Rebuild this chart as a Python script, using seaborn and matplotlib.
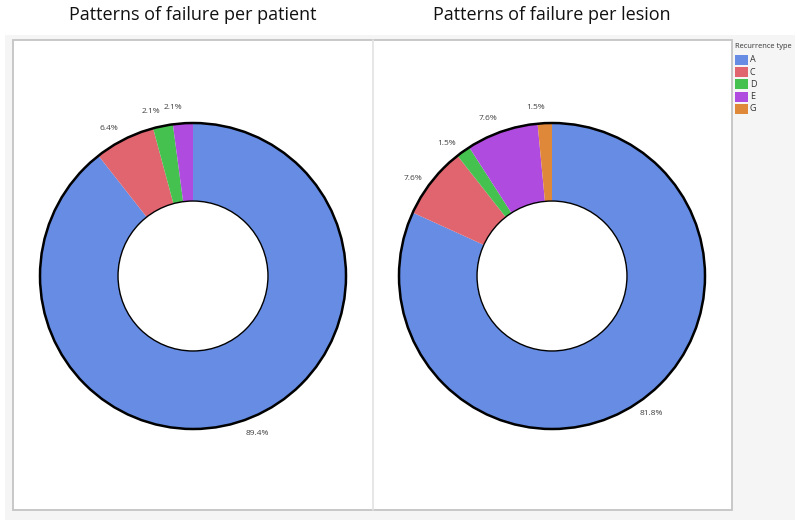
import matplotlib
matplotlib.use("Agg")
import numpy as np
import matplotlib.pyplot as plt
import seaborn as sns
from matplotlib.patches import Rectangle, Circle

# data
types = ["A", "C", "D", "E", "G"]
colors = ["#668ce4", "#e0656f", "#45c14f", "#b04be0", "#e0883a"]
patient_types = ["A", "C", "D", "E"]
patient_pct = [89.4, 6.4, 2.1, 2.1]
lesion_types = ["A", "C", "D", "E", "G"]
lesion_pct = [81.8, 7.6, 1.5, 7.6, 1.5]
titles = ["Patterns of failure per patient", "Patterns of failure per lesion"]

sns.set_theme(style="white")
plt.rcParams["font.family"] = ["Open Sans", "DejaVu Sans"]

W, H = 800, 526
fig = plt.figure(figsize=(8, 5.26), dpi=100)
fig.patch.set_facecolor("white")


def px_rect(x0, y0, x1, y1):
    # pixel box (top-left origin) -> figure fraction rect
    return (x0 / W, 1 - y1 / H, (x1 - x0) / W, (y1 - y0) / H)


# grey report panel and white frames
x, y, w, h = px_rect(5, 35, 795, 520)
fig.patches.append(Rectangle((x, y), w, h, transform=fig.transFigure,
                             facecolor="#f5f5f5", edgecolor="none", zorder=0))
x, y, w, h = px_rect(13, 40, 732, 510)
fig.patches.append(Rectangle((x, y), w, h, transform=fig.transFigure,
                             facecolor="white", edgecolor="#c4c4c4", lw=1.3, zorder=1))
fig.lines.append(plt.Line2D([373 / W, 373 / W], [1 - 510 / H, 1 - 40 / H],
                            transform=fig.transFigure, color="#e2e2e2", lw=1.2, zorder=2))

R = 153  # outer radius in px
L = 1.3
centers = [(193, 276), (552, 276)]
series = [(patient_types, patient_pct), (lesion_types, lesion_pct)]

for (cx, cy), (labs, vals), title in zip(centers, series, titles):
    half = L * R
    ax = fig.add_axes(px_rect(cx - half, cy - half, cx + half, cy + half))
    ax.set_zorder(5)
    cols = [colors[types.index(t)] for t in labs]
    wedges, texts, autotexts = ax.pie(
        vals, colors=cols, startangle=90, counterclock=False,
        autopct=lambda p: f"{p:.1f}%", pctdistance=1.11,
        wedgeprops=dict(width=0.51, edgecolor="none"),
        textprops=dict(fontsize=6.0, color="#404040"))
    # labels sit a little counter-clockwise of the wedge middle
    for wd, at in zip(wedges, autotexts):
        ang = np.deg2rad((wd.theta1 + wd.theta2) / 2 + 3)
        at.set_position((1.11 * np.cos(ang), 1.11 * np.sin(ang)))
    ax.add_patch(Circle((0, 0), 1.0, fill=False, edgecolor="black", lw=1.8, zorder=5))
    ax.add_patch(Circle((0, 0), 0.49, facecolor="white", edgecolor="black", lw=1.0, zorder=5))
    ax.set_xlim(-L, L)
    ax.set_ylim(-L, L)
    ax.set_axis_off()
    ax.patch.set_alpha(0)
    fig.text(cx / W, 1 - 15 / H, title, ha="center", va="center",
             fontsize=13, color="#111111")

# legend
fig.text(735 / W, 1 - 47 / H, "Recurrence type", fontsize=5.4, color="#333333",
         ha="left", va="center")
for i, (t, c) in enumerate(zip(types, colors)):
    yy = 60 + i * 12.2
    x, y, w, h = px_rect(735, yy - 5, 748, yy + 5)
    fig.patches.append(Rectangle((x, y), w, h, transform=fig.transFigure,
                                 facecolor=c, edgecolor="none", zorder=3))
    fig.text(750 / W, 1 - yy / H, t, fontsize=6.5, color="#333333",
             ha="left", va="center")

fig.savefig("out.png", dpi=100)
